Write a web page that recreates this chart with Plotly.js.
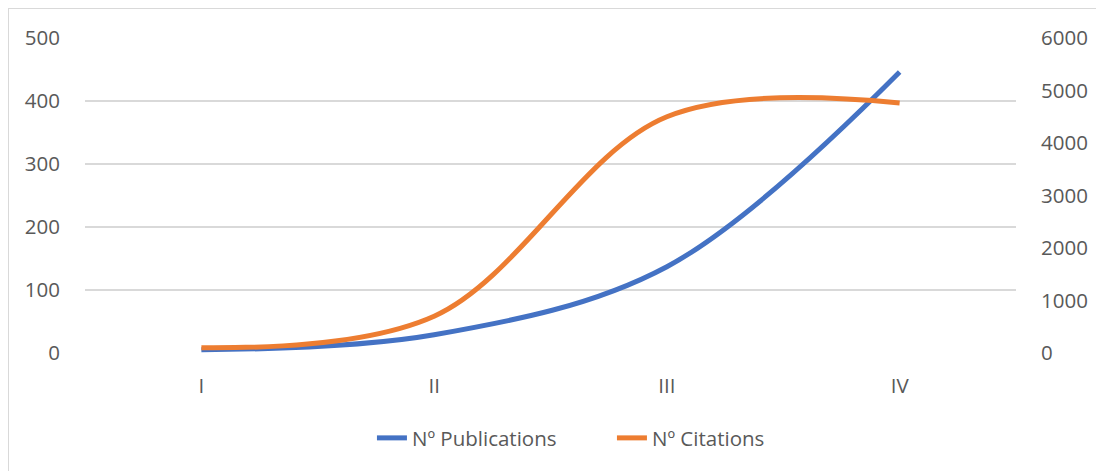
<!DOCTYPE html>
<html>
<head>
<meta charset="utf-8">
<script src="https://cdn.plot.ly/plotly-3.0.1.min.js"></script>
<style>
html,body{margin:0;padding:0;background:#fff;overflow:hidden;}
#wrap{position:relative;width:1096px;height:471px;overflow:hidden;}
#chart{width:1096px;height:471px;}
#frame{position:absolute;left:8px;top:8px;width:1200px;height:600px;border:1px solid #d9d9d9;box-sizing:border-box;pointer-events:none;}
</style>
</head>
<body>
<div id="wrap"><div id="chart"></div><div id="frame"></div></div>
<script>
const categories = ["I", "II", "III", "IV"];
const publications = [5, 29, 137, 446];
const citations = [100, 700, 4500, 4760];
const leftTicks = [0, 100, 200, 300, 400, 500];
const rightTicks = [0, 1000, 2000, 3000, 4000, 5000, 6000];

const font = {family: "Open Sans, Noto Sans, sans-serif", size: 20.5, color: "#595959"};

const traces = [
  {x: categories, y: publications, name: "Nº Publications", type: "scatter", mode: "lines",
   line: {color: "#4472C4", width: 5, shape: "spline", smoothing: 1}, yaxis: "y"},
  {x: categories, y: citations, name: "Nº Citations", type: "scatter", mode: "lines",
   line: {color: "#ED7D31", width: 5, shape: "spline", smoothing: 1}, yaxis: "y2"}
];

const layout = {
  width: 1096, height: 471,
  margin: {l: 85, r: 80, t: 38, b: 118},
  paper_bgcolor: "#fff", plot_bgcolor: "#fff",
  font: font,
  showlegend: true,
  legend: {orientation: "h", x: 0.566, xanchor: "center", y: -0.27, yanchor: "middle", font: font,
           entrywidth: 195, entrywidthmode: "pixels"},
  xaxis: {type: "category", range: [-0.5, 3.5], showgrid: false, zeroline: false, showline: false,
          ticks: "outside", ticklen: 14, tickcolor: "rgba(0,0,0,0)", tickfont: font},
  yaxis: {range: [0, 500], tickvals: leftTicks, showgrid: true, gridcolor: "#d9d9d9", gridwidth: 1.5,
          zeroline: false, showline: false, ticks: "outside", ticklen: 20, tickcolor: "rgba(0,0,0,0)", tickfont: font},
  yaxis2: {range: [0, 6000], tickvals: rightTicks, overlaying: "y", side: "right", showgrid: false,
           zeroline: false, showline: false, ticks: "outside", ticklen: 20, tickcolor: "rgba(0,0,0,0)", tickfont: font}
};

Plotly.newPlot("chart", traces, layout, {displayModeBar: false, staticPlot: true});
</script>
</body>
</html>
